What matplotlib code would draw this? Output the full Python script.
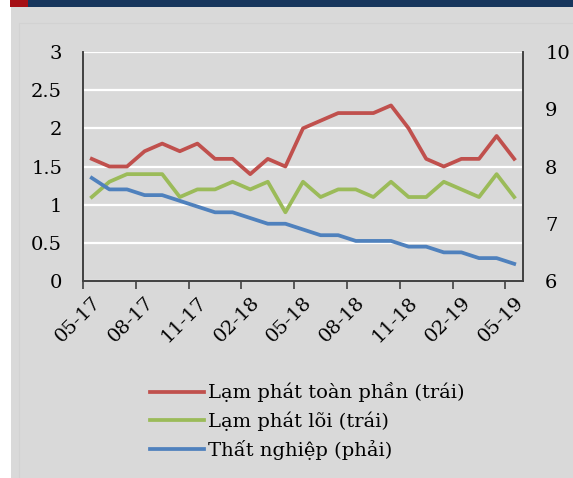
import numpy as np
import matplotlib
matplotlib.use('Agg')
import matplotlib.pyplot as plt
from matplotlib.patches import Rectangle

plt.rcParams['font.family'] = ['DejaVu Serif', 'Liberation Serif']

# data (monthly, 05-17 .. 05-19)
months = ['05-17', '06-17', '07-17', '08-17', '09-17', '10-17', '11-17', '12-17', '01-18',
          '02-18', '03-18', '04-18', '05-18', '06-18', '07-18', '08-18', '09-18', '10-18',
          '11-18', '12-18', '01-19', '02-19', '03-19', '04-19', '05-19']
headline = [1.6, 1.5, 1.5, 1.7, 1.8, 1.7, 1.8, 1.6, 1.6, 1.4, 1.6, 1.5, 2.0, 2.1, 2.2,
            2.2, 2.2, 2.3, 2.0, 1.6, 1.5, 1.6, 1.6, 1.9, 1.6]
core = [1.1, 1.3, 1.4, 1.4, 1.4, 1.1, 1.2, 1.2, 1.3, 1.2, 1.3, 0.9, 1.3, 1.1, 1.2,
        1.2, 1.1, 1.3, 1.1, 1.1, 1.3, 1.2, 1.1, 1.4, 1.1]
unemp = [7.8, 7.6, 7.6, 7.5, 7.5, 7.4, 7.3, 7.2, 7.2, 7.1, 7.0, 7.0, 6.9, 6.8, 6.8,
         6.7, 6.7, 6.7, 6.6, 6.6, 6.5, 6.5, 6.4, 6.4, 6.3]
labels = ['Lạm phát toàn phần (trái)', 'Lạm phát lõi (trái)', 'Thất nghiệp (phải)']

bg = '#d9d9d9'
fs = 14
fig = plt.figure(figsize=(5.73, 4.78), dpi=100)
fig.patch.set_facecolor('white')

# background panel + header bar
fig.patches.append(Rectangle((11/573, 0), 1 - 11/573, 1 - 7/478, transform=fig.transFigure,
                             facecolor=bg, edgecolor='none', zorder=-10))
fig.patches.append(Rectangle((28/573, 1 - 7/478), 1 - 28/573, 7/478, transform=fig.transFigure,
                             facecolor='#17365d', edgecolor='none', zorder=-9))
fig.patches.append(Rectangle((10/573, 1 - 7/478), 18/573, 7/478, transform=fig.transFigure,
                             facecolor='#a50f15', edgecolor='none', zorder=-9))
fig.patches.append(Rectangle((19/573, -0.05), 1, 1 - 23/478 + 0.05, transform=fig.transFigure,
                             facecolor='none', edgecolor='#d2d2d2', lw=0.8, zorder=-8))

ax = fig.add_axes([83/573, 1 - 281/478, 440/573, 229/478])
ax.set_facecolor(bg)
ax2 = ax.twinx()

x = np.arange(len(months))
l1, = ax.plot(x, headline, color='#c0504d', lw=2.7, solid_joinstyle='round')
l2, = ax.plot(x, core, color='#9bbb59', lw=2.7, solid_joinstyle='round')
l3, = ax2.plot(x, unemp, color='#4f81bd', lw=2.7, solid_joinstyle='round')

ax.set_ylim(0, 3)
ax.set_yticks(np.arange(0, 3.01, 0.5))
ax.set_yticklabels(['0', '0.5', '1', '1.5', '2', '2.5', '3'])
ax2.set_ylim(6, 10)
ax2.set_yticks([6, 7, 8, 9, 10])
ax.set_xlim(-0.5, len(months) - 0.5)

ax.yaxis.grid(True, color='white', lw=1.6)
ax.set_axisbelow(True)

ax.set_xticks(np.arange(-0.5, len(months), 3))
ax.set_xticklabels([])
ax.set_xticks(x[::3], minor=True)
ax.set_xticklabels(months[::3], minor=True, rotation=45, ha='right', rotation_mode='anchor')
ax.tick_params(axis='x', which='major', length=6, width=1.2, color='#404040')
ax.tick_params(axis='x', which='minor', length=0, pad=9, labelsize=fs)
ax.tick_params(axis='y', length=0, pad=15, labelsize=fs)
ax2.tick_params(axis='y', length=0, pad=16, labelsize=fs)

for a in (ax, ax2):
    a.spines['top'].set_visible(False)
    for s in ('left', 'right', 'bottom'):
        a.spines[s].set_color('#404040')
        a.spines[s].set_linewidth(1.2)

fig.legend([l1, l2, l3], labels, loc='upper left', bbox_to_anchor=(132/573, 1 - 365/478),
           frameon=False, fontsize=fs, handlelength=2.8, handletextpad=0.2, labelspacing=0.45)

fig.savefig('out.png', dpi=100, facecolor=fig.get_facecolor())
